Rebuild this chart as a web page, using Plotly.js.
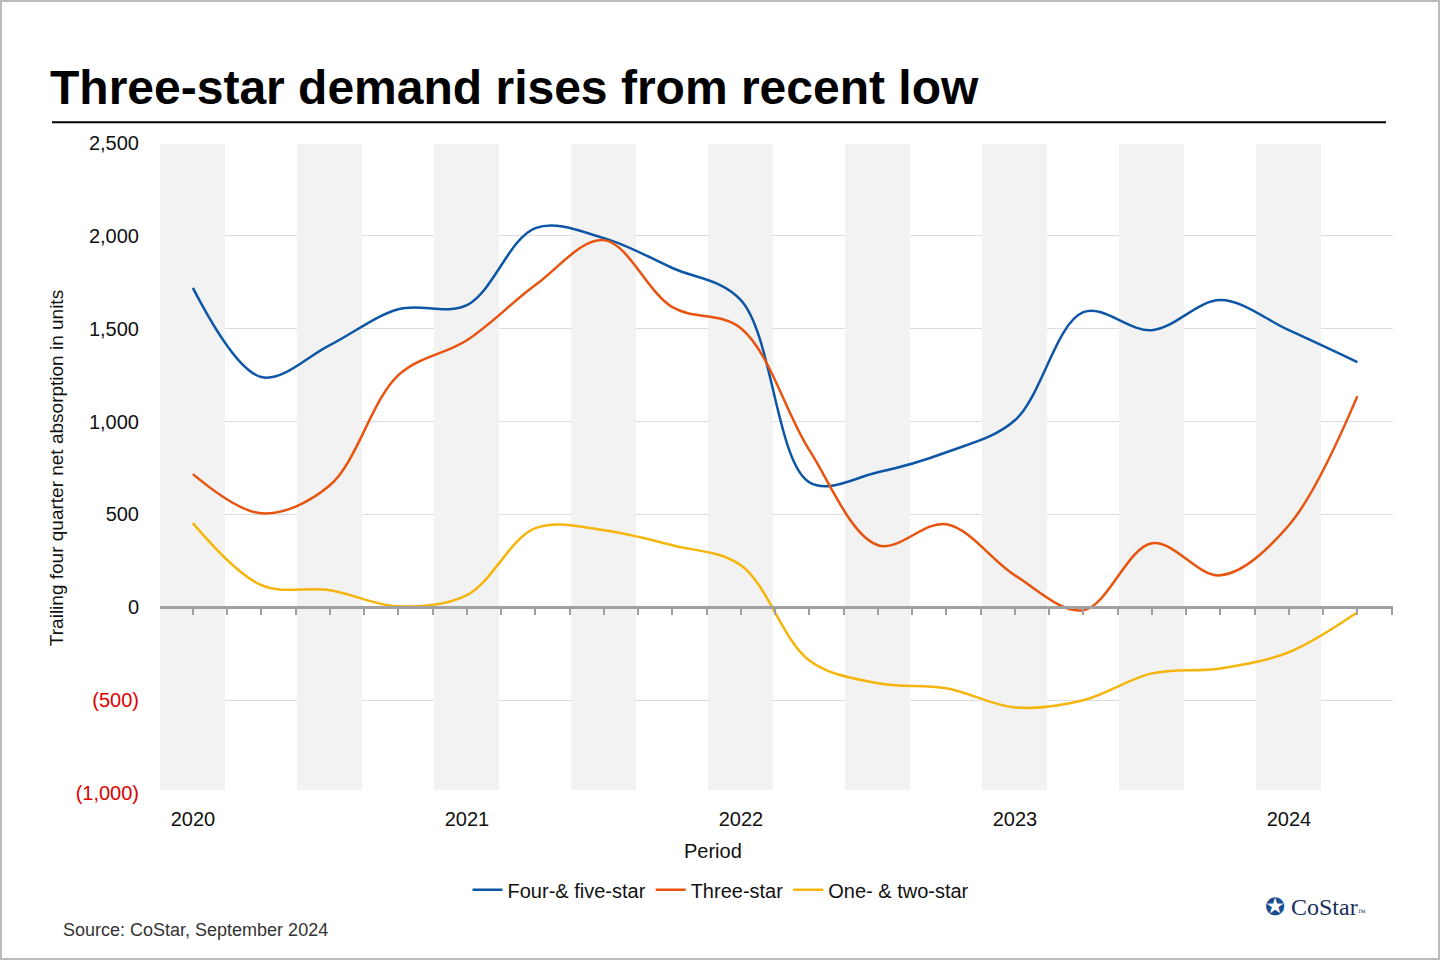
<!DOCTYPE html>
<html><head><meta charset="utf-8">
<script src="https://cdn.plot.ly/plotly-3.0.1.min.js"></script>
<style>body{margin:0;}#c{width:1440px;height:960px;}</style>
</head><body><div id="c"></div>
<script>
const quarters=[0,1,2,3,4,5,6,7,8,9,10,11,12,13,14,15,16,17];
const yearTicks=[0,4,8,12,16];
const yearLabels=["2020","2021","2022","2023","2024"];
const fourFive=[1720,1240,1412,1605,1627,2042,1988,1827,1654,673,727,835,1007,1589,1492,1654,1492,1320];
const three=[717,506,657,1250,1438,1735,1977,1616,1503,846,334,447,172,-16,345,172,442,1137];
const oneTwo=[453,119,92,5,65,426,415,334,226,-286,-409,-436,-539,-501,-356,-329,-242,-27];
const bandX=[0,2,4,6,8,10,12,14,16];
const yTicks=[-1000,-500,0,500,1000,1500,2000,2500];
const yLabels=['<span style="color:#e00000">(1,000)</span>','<span style="color:#e00000">(500)</span>','0','500','1,000','1,500','2,000','2,500'];

const traces=[
 {type:'bar',x:bandX,y:bandX.map(()=>3480),base:-985,width:0.95,marker:{color:'#f2f2f2'},showlegend:false,hoverinfo:'skip'},
 {type:'scatter',mode:'lines',name:'Four-& five-star',x:quarters,y:fourFive,line:{color:'#0d56a6',width:2.5,shape:'spline',smoothing:1}},
 {type:'scatter',mode:'lines',name:'Three-star',x:quarters,y:three,line:{color:'#e8530e',width:2.5,shape:'spline',smoothing:1}},
 {type:'scatter',mode:'lines',name:'One- & two-star',x:quarters,y:oneTwo,line:{color:'#f5b50a',width:2.5,shape:'spline',smoothing:1}},
 {type:'scatter',mode:'markers',x:[0],y:[0],xaxis:'x2',marker:{opacity:0},showlegend:false,hoverinfo:'skip'}
];
const layout={
 width:1440,height:960,paper_bgcolor:'white',plot_bgcolor:'white',
 margin:{l:160,r:47,t:143,b:167},
 font:{family:'Arial, Liberation Sans, sans-serif',size:20,color:'#111'},
 bargap:0,
 xaxis:{range:[-0.48,17.52],tickvals:yearTicks,ticktext:yearLabels,showgrid:false,zeroline:false,ticks:'',
   tickfont:{size:20},ticklabelstandoff:12},
 xaxis2:{overlaying:'x',matches:'x',anchor:'free',position:1000/3500,showline:true,linecolor:'#a0a0a0',linewidth:3,
   ticks:'outside',tickcolor:'#a0a0a0',tickwidth:2,ticklen:6,dtick:0.5,tick0:-0.5,showticklabels:false,showgrid:false,zeroline:false},
 yaxis:{range:[-1000,2500],tickvals:yTicks,ticktext:yLabels,showgrid:true,gridcolor:'#dcdcdc',zeroline:false,ticks:'',
   tickfont:{size:20},ticklabelstandoff:20,title:{text:'Trailing four quarter net absorption in units',font:{size:19},standoff:6}},
 legend:{orientation:'h',x:0.455,xanchor:'center',y:-0.149,yanchor:'middle',font:{size:20},traceorder:'normal',itemwidth:30},
 shapes:[
  {type:'line',xref:'paper',yref:'paper',x0:-0.0876,x1:0.9943,y0:1.032,y1:1.032,line:{color:'black',width:2}},
  {type:'rect',xref:'paper',yref:'paper',x0:-159/1233,x1:1+46/1233,y0:-166/650,y1:1+142/650,line:{color:'#bbbbbb',width:2}}
 ],
 annotations:[
  {text:'<b>Three-star demand rises from recent low</b>',xref:'paper',yref:'paper',x:-0.091,y:1.042,xanchor:'left',yanchor:'bottom',showarrow:false,font:{size:48,color:'black'}},
  {text:'Period',xref:'paper',yref:'paper',x:(713-160)/1233,y:(793-851)/650,xanchor:'center',yanchor:'middle',showarrow:false,font:{size:20}},
  {text:'Source: CoStar, September 2024',xref:'paper',yref:'paper',x:-0.08,y:-0.211,xanchor:'left',yanchor:'middle',showarrow:false,font:{size:18,color:'#333'}},
  {text:'<span style="color:#1a4f8f">✪</span> CoStar<span style="font-size:8px">™</span>',xref:'paper',yref:'paper',x:0.937,y:-0.175,xanchor:'center',yanchor:'middle',showarrow:false,font:{size:24,color:'#1a2f5a',family:'Liberation Serif, serif'}}
 ]
};
Plotly.newPlot('c',traces,layout,{displayModeBar:false});
</script></body></html>
